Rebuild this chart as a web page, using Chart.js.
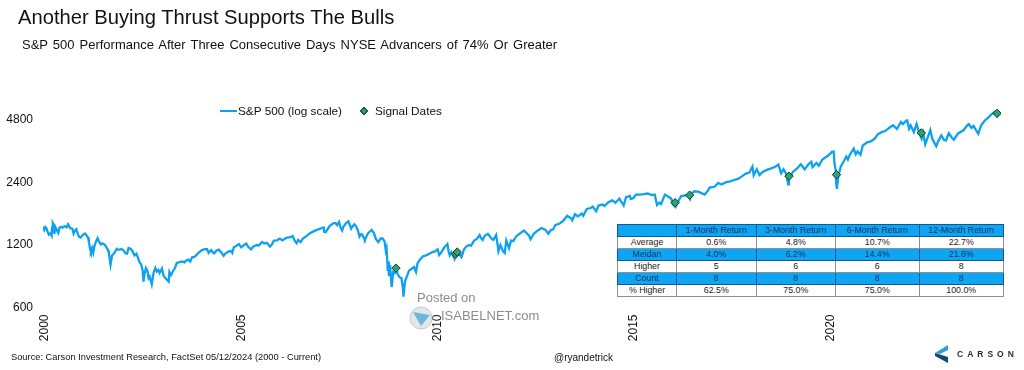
<!DOCTYPE html>
<html>
<head>
<meta charset="utf-8">
<title>Another Buying Thrust Supports The Bulls</title>
<script src="https://cdn.jsdelivr.net/npm/chart.js@4"></script>
<style>
    html, body { margin: 0; padding: 0; background: #fff; }
    body { width: 1024px; height: 370px; overflow: hidden; position: relative; font-family: "Liberation Sans", Arial, sans-serif; color: #111; }
    #chart-wrap { position: absolute; left: 0; top: 0; width: 1024px; height: 370px; }
    .abs { position: absolute; white-space: nowrap; }
    #title { left: 18px; top: 6px; font-size: 20.2px; }
    #subtitle { left: 22px; top: 37px; font-size: 13px; word-spacing: 1.4px; }
    #source { left: 11px; top: 352px; font-size: 9.3px; }
    #handle { left: 554px; top: 352px; font-size: 10px; }
    #legend { left: 220px; top: 103px; font-size: 11.8px; height: 16px; line-height: 16px; }
    #legend .line { position: absolute; left: 0; top: 7px; width: 17px; height: 2px; background: #0ea2ee; }
    #legend .lbl { position: absolute; top: 0; }
    #legend .dia { position: absolute; left: 141px; top: 5px; width: 4px; height: 4px; transform: rotate(45deg); background: #2ea36f; border: 1px solid #17392c; }
    #mark1 { left: 417px; top: 290px; font-size: 13px; color: #8c8c8c; }
    #mark2 { left: 441px; top: 308px; font-size: 13px; color: #8c8c8c; }
    #icon { left: 409px; top: 306px; }
    #logo { left: 934px; top: 345px; }
    #carson { left: 957px; top: 349px; font-size: 8.5px; font-weight: bold; letter-spacing: 4px; color: #1c2b39; }
    #returns { position: absolute; left: 617px; top: 224px; width: 386px; height: 73px; border-collapse: collapse; table-layout: fixed; font-size: 8.8px; text-align: center; background: #fff; }
    #returns td { padding: 0; height: 11px; line-height: 11px; border: 1px solid #8f8f8f; color: #222; overflow: hidden; }
    #returns tr.blue td { background: #0ea5f5; color: #0b3a66; border-color: #155a86; }
</style>
</head>
<body>
<div id="chart-wrap"><canvas id="thrust-chart" width="1024" height="370"></canvas></div>

<div class="abs" id="title">Another Buying Thrust Supports The Bulls</div>
<div class="abs" id="subtitle">S&amp;P 500 Performance After Three Consecutive Days NYSE Advancers of 74% Or Greater</div>

<div class="abs" id="legend">
    <span class="line"></span><span class="lbl" style="left:18px">S&amp;P 500 (log scale)</span>
    <span class="dia"></span><span class="lbl" style="left:155px">Signal Dates</span>
</div>

<table id="returns"></table>

<svg class="abs" id="icon" width="24" height="24" viewBox="0 0 24 24">
    <circle cx="12" cy="12" r="11" fill="#e4e7ea" stroke="#c4c8cc"/>
    <path d="M4 6 L21 9 L12 20 Z" fill="#6fb6dc"/>
</svg>
<div class="abs" id="mark1">Posted on</div>
<div class="abs" id="mark2">ISABELNET.com</div>

<div class="abs" id="source">Source: Carson Investment Research, FactSet 05/12/2024 (2000 - Current)</div>
<div class="abs" id="handle">@ryandetrick</div>

<svg class="abs" id="logo" width="16" height="18" viewBox="0 0 16 18">
    <path d="M1 8 L14 0 L14 5 L6 9 Z" fill="#2f9fd8"/>
    <path d="M1 8 L14 12 L14 18 L1 11 Z" fill="#12496e"/>
</svg>
<div class="abs" id="carson">CARSON</div>

<script>
var spx_dates = [
    2000.00,2000.03,2000.06,2000.09,2000.12,2000.15,2000.19,2000.22,2000.23,2000.25,2000.27,2000.29,2000.31,2000.35,2000.39,2000.42,2000.46,2000.50,2000.55,2000.60,2000.64,2000.69,2000.75,2000.78,2000.80,2000.85,2000.89,2000.92,2000.96,
    2001.02,2001.07,2001.10,2001.15,2001.17,2001.20,2001.22,2001.25,2001.28,2001.31,2001.36,2001.39,2001.42,2001.47,2001.50,2001.54,2001.58,2001.62,2001.66,2001.68,2001.72,2001.76,2001.80,2001.84,2001.88,2001.92,2001.96,
    2002.00,2002.05,2002.10,2002.14,2002.18,2002.24,2002.28,2002.33,2002.38,2002.42,2002.46,2002.50,2002.54,2002.56,2002.58,2002.62,2002.66,2002.69,2002.72,2002.77,2002.82,2002.86,2002.90,2002.94,2002.97,
    2003.03,2003.07,2003.12,2003.20,2003.22,2003.26,2003.30,2003.36,2003.41,2003.46,2003.54,2003.60,2003.65,2003.70,2003.75,2003.80,2003.85,2003.90,2003.96,
    2004.05,2004.12,2004.18,2004.22,2004.28,2004.32,2004.36,2004.42,2004.48,2004.55,2004.60,2004.65,2004.72,2004.78,2004.82,2004.86,2004.93,2004.99,
    2005.05,2005.12,2005.18,2005.22,2005.30,2005.36,2005.45,2005.50,2005.58,2005.64,2005.70,2005.78,2005.82,2005.88,2005.96,
    2006.03,2006.10,2006.20,2006.30,2006.36,2006.42,2006.46,2006.50,2006.56,2006.62,2006.70,2006.80,2006.90,2006.98,
    2007.10,2007.15,2007.16,2007.20,2007.30,2007.40,2007.45,2007.49,2007.54,2007.58,2007.62,2007.65,2007.72,2007.78,2007.85,2007.88,2007.93,2007.97,
    2008.02,2008.06,2008.09,2008.12,2008.18,2008.20,2008.28,2008.37,2008.43,2008.48,2008.54,2008.60,2008.65,2008.70,2008.73,2008.75,2008.77,2008.78,2008.80,2008.81,2008.84,2008.88,2008.92,2008.96,
    2009.00,2009.03,2009.08,2009.13,2009.17,2009.18,2009.22,2009.28,2009.32,2009.38,2009.45,2009.50,2009.54,2009.60,2009.68,2009.76,2009.84,2009.92,2009.99,
    2010.05,2010.09,2010.15,2010.22,2010.30,2010.33,2010.36,2010.40,2010.44,2010.48,2010.52,2010.56,2010.66,2010.72,2010.78,2010.85,2010.90,2010.98,
    2011.05,2011.12,2011.15,2011.20,2011.25,2011.33,2011.42,2011.47,2011.54,2011.58,2011.60,2011.65,2011.72,2011.76,2011.80,2011.87,2011.92,2011.98,
    2012.05,2012.15,2012.25,2012.30,2012.38,2012.42,2012.50,2012.58,2012.70,2012.80,2012.87,2012.94,2012.99,
    2013.05,2013.15,2013.25,2013.35,2013.46,2013.48,2013.55,2013.62,2013.72,2013.76,2013.85,2013.95,
    2014.00,2014.09,2014.15,2014.25,2014.30,2014.40,2014.50,2014.58,2014.68,2014.79,2014.85,2014.95,2014.97,
    2015.04,2015.10,2015.20,2015.30,2015.40,2015.50,2015.58,2015.64,2015.70,2015.74,2015.84,2015.95,
    2016.00,2016.05,2016.11,2016.18,2016.25,2016.35,2016.43,2016.48,2016.52,2016.60,2016.69,2016.85,2016.94,2016.98,
    2017.10,2017.20,2017.28,2017.40,2017.50,2017.60,2017.70,2017.80,2017.90,2017.99,
    2018.07,2018.10,2018.18,2018.25,2018.33,2018.45,2018.55,2018.65,2018.73,2018.80,2018.86,2018.93,2018.98,
    2019.00,2019.10,2019.20,2019.30,2019.40,2019.50,2019.57,2019.60,2019.70,2019.76,2019.85,2019.99,
    2020.10,2020.14,2020.16,2020.19,2020.20,2020.22,2020.26,2020.32,2020.40,2020.46,2020.50,2020.55,2020.65,2020.70,2020.75,2020.82,2020.88,2020.99,
    2021.08,2021.18,2021.26,2021.36,2021.45,2021.55,2021.65,2021.75,2021.85,2021.90,2021.99,
    2022.01,2022.06,2022.10,2022.18,2022.25,2022.32,2022.38,2022.42,2022.47,2022.60,2022.65,2022.75,2022.80,2022.88,2022.95,
    2023.00,2023.07,2023.15,2023.20,2023.30,2023.45,2023.55,2023.58,2023.65,2023.70,2023.82,2023.90,2023.99,
    2024.08,2024.15,2024.24,2024.30,2024.36
];
var spx_values = [
    1469,1420,1465,1441,1387,1346,1366,1333,1460,1527,1498,1357,1470,1420,1373,1455,1470,1455,1480,1460,1510,1450,1436,1364,1395,1430,1350,1315,1305,
    1347,1364,1342,1300,1240,1150,1117,1160,1103,1190,1260,1296,1255,1210,1220,1215,1200,1165,1130,1090,965,1070,1090,1115,1150,1140,1140,
    1150,1130,1095,1090,1160,1150,1120,1070,1090,1040,990,970,900,800,860,930,900,830,845,776,890,930,895,910,880,
    925,855,830,800,890,860,890,930,985,990,1000,990,1010,1020,1000,1050,1050,1070,1100,
    1135,1145,1145,1100,1135,1110,1095,1130,1140,1100,1065,1095,1115,1125,1100,1170,1190,1212,
    1170,1200,1220,1180,1145,1180,1200,1195,1240,1220,1230,1180,1200,1260,1265,
    1290,1265,1300,1310,1325,1250,1225,1270,1240,1290,1320,1370,1400,1420,
    1450,1459,1390,1385,1480,1530,1530,1495,1550,1455,1410,1470,1530,1560,1440,1470,1510,1480,
    1410,1320,1350,1355,1290,1275,1370,1420,1370,1280,1240,1290,1290,1250,1130,1160,1000,900,1000,850,960,752,890,880,
    925,870,840,830,735,676,800,860,900,920,940,890,980,1020,1060,1070,1090,1110,1120,
    1145,1075,1110,1170,1215,1120,1070,1110,1070,1030,1100,1120,1050,1140,1180,1200,1190,1260,
    1285,1340,1300,1270,1330,1360,1290,1270,1340,1200,1120,1200,1120,1100,1260,1160,1260,1255,
    1320,1365,1410,1380,1330,1280,1360,1400,1450,1420,1360,1420,1425,
    1500,1520,1570,1660,1610,1580,1690,1650,1700,1660,1790,1810,
    1840,1745,1860,1880,1850,1930,1970,1920,2010,1860,2040,2070,2000,
    2020,2100,2100,2110,2125,2090,2100,1870,1920,1890,2100,2040,
    2010,1880,1830,1950,2060,2080,2090,2000,2130,2180,2170,2100,2200,2270,
    2290,2390,2350,2410,2430,2470,2500,2570,2650,2680,
    2870,2600,2780,2610,2700,2770,2810,2860,2930,2660,2780,2640,2350,
    2510,2700,2800,2940,2780,2950,3020,2850,2980,2890,3100,3230,
    3380,3380,2950,2750,2400,2237,2600,2870,3050,3200,3100,3270,3500,3280,3390,3270,3620,3750,
    3790,3900,4100,4200,4250,4400,4530,4350,4700,4590,4780,
    4790,4360,4520,4200,4600,4130,3900,4150,3670,4300,3900,3590,3800,4050,3850,
    3830,4150,3950,3860,4130,4300,4550,4590,4400,4500,4120,4550,4780,
    4950,5100,5250,5010,5220
];

var signal_dates = [2008.99, 2010.51, 2010.55, 2016.10, 2016.47, 2019.00, 2020.21, 2022.37, 2024.30];
var signal_values = [929, 1084, 1110, 1920, 2087, 2576, 2620, 4165, 5172];

var y_ticks = [600, 1200, 2400, 4800];
var x_ticks = [2000, 2005, 2010, 2015, 2020];

var table_head = ['', '1-Month Return', '3-Month Return', '6-Month Return', '12-Month Return'];
var table_rows = [
    ['Average', '0.6%', '4.8%', '10.7%', '22.7%'],
    ['Meidan', '4.0%', '6.2%', '14.4%', '21.8%'],
    ['Higher', '5', '6', '6', '8'],
    ['Count', '8', '8', '8', '8'],
    ['% Higher', '62.5%', '75.0%', '75.0%', '100.0%']
];
var col_widths = [59, 79.5, 79.5, 83.5, 84.5];

function ToPoints(dates, values) {
    return dates.map(function (d, i) {
        return { x: d, y: values[i] };
    });
}

function BuildTable() {
    var html = '<colgroup>';
    col_widths.forEach(function (w) {
        html += '<col style="width:' + w + 'px">';
    });
    html += '</colgroup>';
    [table_head].concat(table_rows).forEach(function (row, i) {
        html += '<tr' + (i % 2 === 0 && i !== 5 ? ' class="blue"' : '') + '>';
        row.forEach(function (cell) {
            html += '<td>' + cell + '</td>';
        });
        html += '</tr>';
    });
    document.getElementById('returns').innerHTML = html;
}

BuildTable();

new Chart(document.getElementById('thrust-chart'), {
    type: 'line',
    data: {
        datasets: [{
            label: 'Signal Dates',
            data: ToPoints(signal_dates, signal_values),
            showLine: false,
            pointStyle: 'rectRot',
            pointRadius: 4.2,
            pointBackgroundColor: '#2ea36f',
            pointBorderColor: '#17392c',
            pointBorderWidth: 1
        }, {
            label: 'S&P 500 (log scale)',
            data: ToPoints(spx_dates, spx_values),
            borderColor: '#0ea2ee',
            borderWidth: 2.3,
            pointRadius: 0,
            tension: 0
        }]
    },
    options: {
        responsive: false,
        animation: false,
        layout: { padding: { top: 100, right: 23, left: 0, bottom: 0 } },
        plugins: { legend: false, tooltip: { enabled: false } },
        scales: {
            x: {
                type: 'linear',
                min: 2000,
                max: 2024.4,
                grid: { display: false, drawTicks: false },
                border: { display: false },
                afterBuildTicks: function (scale) {
                    scale.ticks = x_ticks.map(function (v) { return { value: v }; });
                },
                afterFit: function (scale) { scale.height = 62.5; },
                ticks: {
                    autoSkip: false,
                    minRotation: 90,
                    maxRotation: 90,
                    padding: 7,
                    labelOffset: 2,
                    color: '#111',
                    font: { family: '"Liberation Sans"', size: 12 },
                    callback: function (v) { return String(v); }
                }
            },
            y: {
                type: 'logarithmic',
                min: 600,
                max: 6000,
                grid: { display: false, drawTicks: false },
                border: { display: false },
                afterBuildTicks: function (scale) {
                    scale.ticks = y_ticks.map(function (v) { return { value: v }; });
                },
                afterFit: function (scale) { scale.width = 43; },
                ticks: {
                    autoSkip: false,
                    padding: 10,
                    color: '#111',
                    font: { family: '"Liberation Sans"', size: 12 },
                    callback: function (v) { return String(v); }
                }
            }
        }
    }
});
</script>
</body>
</html>
